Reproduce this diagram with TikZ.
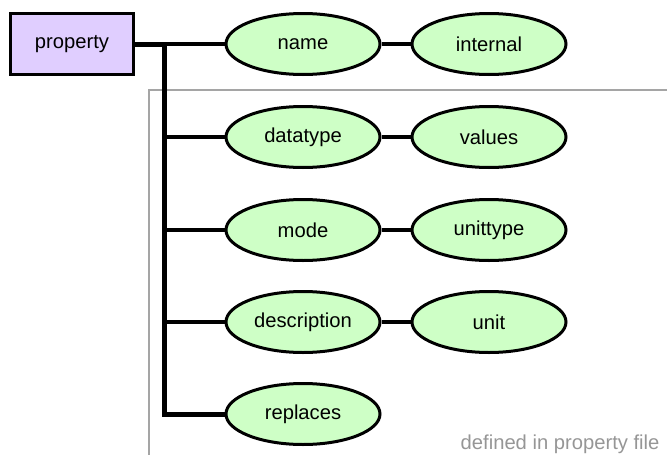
\documentclass[tikz,border=0pt]{standalone}
\usepackage{fontspec}
\setmainfont{Liberation Sans}
\usepackage{tikz}
\usetikzlibrary{shapes.geometric,positioning}
\definecolor{lila}{RGB}{224,206,255}
\definecolor{gruen}{RGB}{206,255,198}
\definecolor{rahmen}{RGB}{165,165,165}
\definecolor{notiz}{RGB}{150,150,150}

\begin{document}
\begin{tikzpicture}[
  x=1pt, y=-1pt,
  font=\fontsize{20.2}{24}\selectfont,
  klasse/.style={rectangle, draw, fill=lila, line width=3pt,
                 minimum width=123pt, minimum height=61pt, inner sep=0pt},
  attr/.style={ellipse, draw, fill=gruen, line width=3pt,
               minimum width=154pt, minimum height=61pt, inner sep=0pt},
  stamm/.style={line width=5pt},
  ast/.style={line width=3.6pt}
]
\useasboundingbox (0,0) rectangle (667,455);

% ---------- Rahmen: Eigenschaften aus der Datei ------------------
\draw[rahmen, line width=1.4pt] (667,90) -- (149,90) -- (149,455);
\node[notiz, anchor=base east] (datei) at (663,449) {defined in property file};

% ---------- Klasse und Attribute ---------------------------------
\node[klasse] (prop) at (72,44) {property};

\node[attr] (name)  at (303,44)  {name};
\node[attr] (dtype) at (303,137) {datatype};
\node[attr] (mode)  at (303,230) {mode};
\node[attr] (desc)  at (303,322) {description};
\node[attr] (repl)  at (303,414) {replaces};

\node[attr] (intern) at (489,44)  {internal};
\node[attr] (vals)   at (489,137) {values};
\node[attr] (utype)  at (489,230) {unittype};
\node[attr] (unit)   at (489,322) {unit};

% ---------- Stamm und Aeste --------------------------------------
\coordinate (oben) at (164,44);
\draw[stamm] (prop.east) -- (oben);
\draw[stamm] (oben) |- ([xshift=1pt]repl.west);
\foreach \a in {name,dtype,mode,desc}
  \draw[ast] (oben |- \a.west) -- (\a.west);

\foreach \a/\b in {name/intern,dtype/vals,mode/utype,desc/unit}
  \draw[ast] (\a.east) -- (\b.west);

\end{tikzpicture}
\end{document}
